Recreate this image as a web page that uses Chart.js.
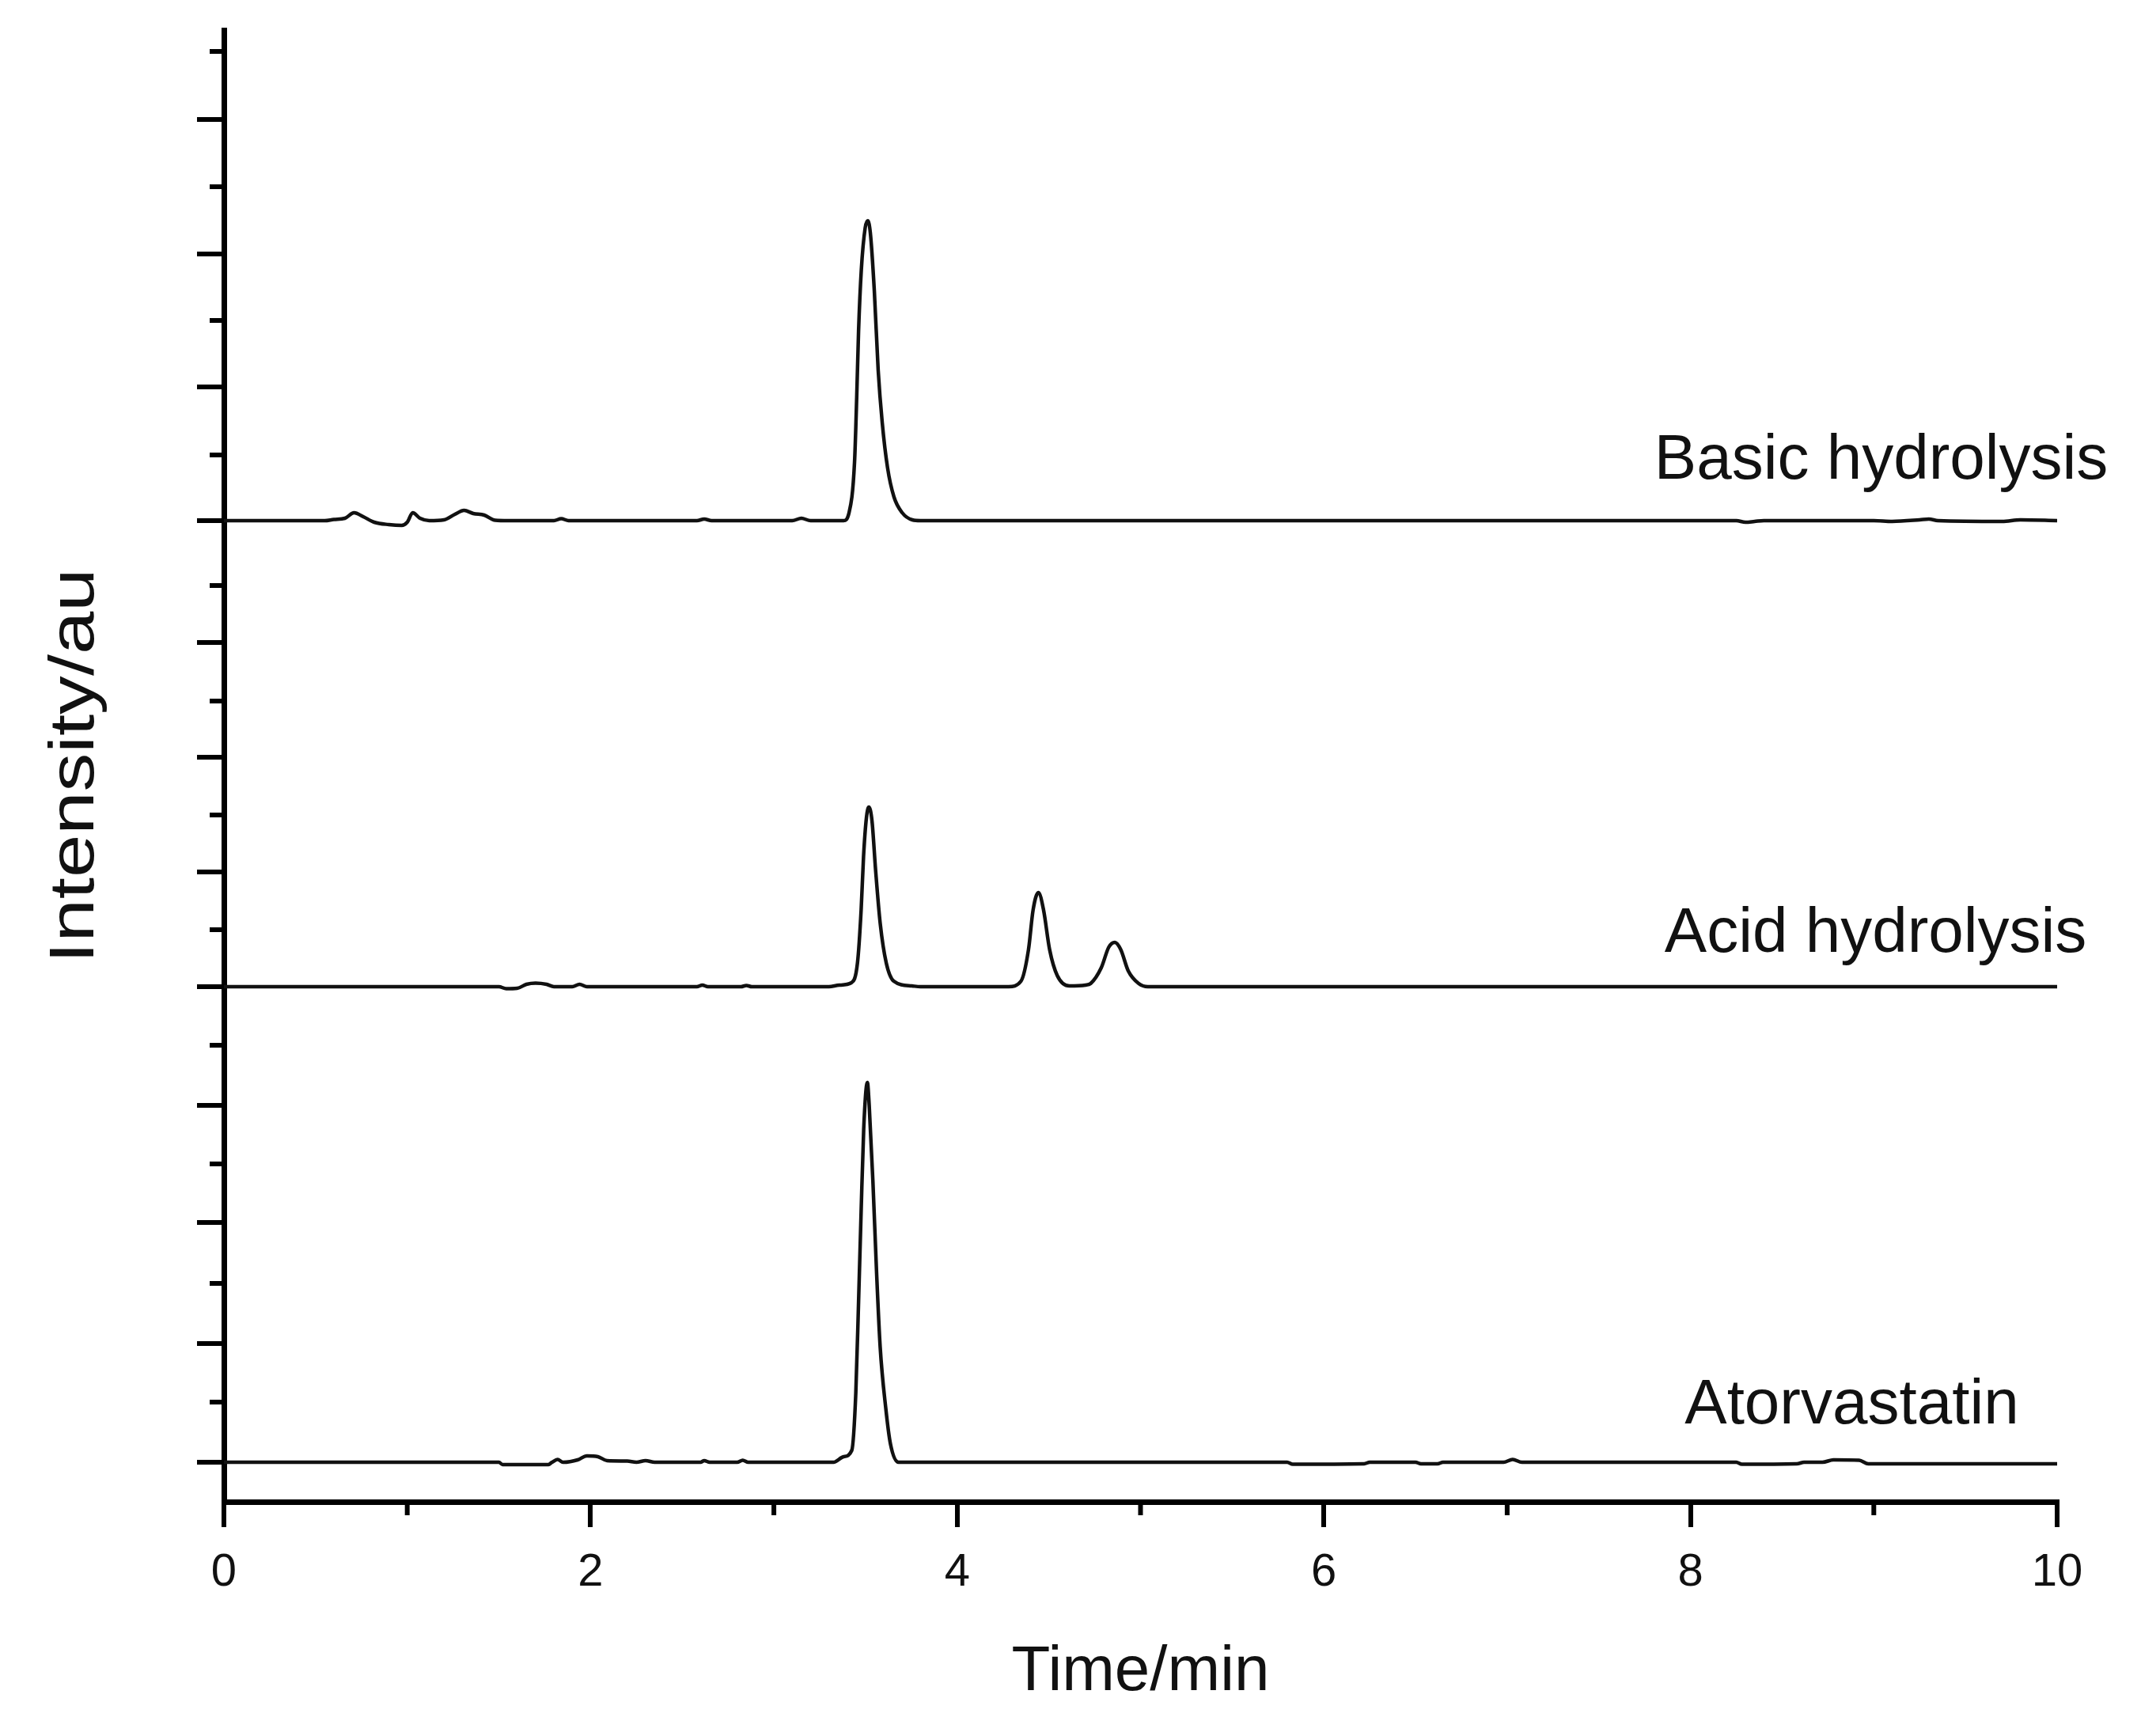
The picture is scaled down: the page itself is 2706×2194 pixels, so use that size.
<!DOCTYPE html>
<html>
<head>
<meta charset="utf-8">
<title>Chromatograms</title>
<script src="https://cdn.jsdelivr.net/npm/chart.js@4.4.1/dist/chart.umd.min.js"></script>
<style>
  html, body { margin: 0; padding: 0; background: #fff; }
  #wrap { width: 2706px; height: 2194px; position: relative; }
</style>
</head>
<body>
<div id="wrap"><canvas id="chrom"></canvas></div>
<script>
// [retention time (min), signal above the trace's own baseline (au)]
const basicTrace = [
  [0, 0], [0.55, 0], [0.60, 0.15], [0.66, 0.3], [0.71, 1.0], [0.76, 0.5], [0.82, -0.2], [0.90, -0.5],
  [0.97, -0.6], [1.00, -0.2], [1.03, 1.0], [1.07, 0.3], [1.12, 0], [1.20, 0.1], [1.26, 0.8], [1.31, 1.3],
  [1.36, 0.9], [1.42, 0.7], [1.48, 0.05], [1.55, 0], [1.80, 0], [1.84, 0.25], [1.88, 0], [2.58, 0],
  [2.62, 0.2], [2.66, 0], [3.10, 0], [3.15, 0.3], [3.20, 0], [3.38, 0], [3.41, 1.0], [3.44, 7.4],
  [3.452, 15.7], [3.462, 24.0], [3.477, 31.7], [3.498, 37.0], [3.512, 37.9], [3.526, 36.4], [3.548, 29.0],
  [3.569, 19.0], [3.591, 12.4], [3.62, 6.7], [3.655, 3.0], [3.70, 1.0], [3.755, 0.1], [3.80, 0],
  [8.25, 0], [8.30, -0.2], [8.35, -0.1], [8.40, 0], [9.0, 0], [9.1, -0.1], [9.25, 0.1], [9.3, 0.2],
  [9.35, 0], [9.7, -0.1], [9.8, 0.1], [10, 0]
];
const acidTrace = [
  [0, 0], [1.50, 0], [1.54, -0.25], [1.60, -0.2], [1.65, 0.3], [1.70, 0.45], [1.76, 0.3], [1.80, 0],
  [1.90, 0], [1.94, 0.3], [1.98, 0], [2.58, 0], [2.61, 0.2], [2.64, 0], [2.82, 0], [2.85, 0.15], [2.88, 0],
  [3.30, 0], [3.357, 0.2], [3.423, 0.5], [3.456, 3.0], [3.476, 9.7], [3.489, 16.4], [3.505, 21.4],
  [3.518, 22.7], [3.535, 21.0], [3.555, 14.7], [3.58, 8.0], [3.613, 3.0], [3.654, 0.7], [3.753, 0.1],
  [3.80, 0], [4.28, 0], [4.348, 0.7], [4.389, 4.7], [4.414, 9.7], [4.443, 11.9], [4.471, 9.7],
  [4.504, 4.7], [4.546, 1.4], [4.612, 0.1], [4.70, 0.2], [4.728, 0.4], [4.786, 2.4], [4.827, 5.0],
  [4.86, 5.6], [4.892, 4.7], [4.933, 2.0], [4.99, 0.4], [5.04, 0], [10, 0]
];
const atorvastatinTrace = [
  [0, 0], [1.50, 0], [1.52, -0.3], [1.77, -0.3], [1.79, 0], [1.82, 0.35], [1.85, 0], [1.93, 0.3],
  [1.98, 0.8], [2.04, 0.7], [2.09, 0.2], [2.20, 0.15], [2.25, 0], [2.30, 0.2], [2.35, 0], [2.60, 0],
  [2.62, 0.2], [2.65, 0], [2.80, 0], [2.83, 0.25], [2.86, 0], [3.325, 0], [3.38, 0.7], [3.425, 1.5],
  [3.447, 8.8], [3.462, 20.3], [3.476, 31.7], [3.49, 42.1], [3.51, 48.0], [3.52, 45.1], [3.54, 35.6],
  [3.56, 24.1], [3.58, 14.5], [3.61, 6.9], [3.636, 2.3], [3.68, 0], [5.80, 0], [5.83, -0.25],
  [6.22, -0.2], [6.25, 0], [6.50, 0], [6.53, -0.2], [6.62, -0.2], [6.65, 0], [6.98, 0], [7.03, 0.35],
  [7.08, 0], [8.25, 0], [8.28, -0.25], [8.58, -0.2], [8.62, 0], [8.72, 0], [8.78, 0.3], [8.92, 0.25],
  [8.97, -0.2], [10, -0.2]
];

const traceNames = ['Basic hydrolysis', 'Acid hydrolysis', 'Atorvastatin'];
const traceOffsets = [124.0, 65.1, 5.0];   // stacked baselines
const labelTimes = [9.04, 9.01, 8.88];
const labelLift = [7.5, 6.6, 7.1];

const xMajorTicks = [0, 2, 4, 6, 8, 10];
const xMinorTicks = [1, 3, 5, 7, 9];
const yMajorTicks = [5.0, 20.0, 35.3, 50.1, 65.1, 79.6, 94.1, 108.6, 124.0, 140.9, 157.7, 174.7];
const yMinorTicks = [12.6, 27.6, 42.7, 57.7, 72.3, 86.8, 101.2, 115.8, 132.3, 149.3, 166.2, 183.3];

const FONT = '"Liberation Sans", Arial, Helvetica, sans-serif';

// short minor ticks, trace names and the (stretched) y title
const overlay = {
  id: 'overlay',
  afterDraw(chart) {
    const { ctx } = chart;
    const x = chart.scales.x, y = chart.scales.y;
    ctx.save();
    ctx.strokeStyle = '#000';
    ctx.lineWidth = 6;
    ctx.beginPath();
    xMinorTicks.forEach(v => {
      const px = x.getPixelForValue(v);
      ctx.moveTo(px, x.top);
      ctx.lineTo(px, x.top + 17);
    });
    yMinorTicks.forEach(v => {
      const py = y.getPixelForValue(v);
      ctx.moveTo(y.right - 18, py);
      ctx.lineTo(y.right, py);
    });
    ctx.stroke();

    ctx.fillStyle = '#111';
    ctx.font = '80px ' + FONT;
    ctx.textAlign = 'center';
    ctx.textBaseline = 'middle';
    traceNames.forEach((name, i) => {
      ctx.fillText(name, x.getPixelForValue(labelTimes[i]),
        y.getPixelForValue(traceOffsets[i] + labelLift[i]));
    });

    // y title, drawn by hand because it is stretched along its length
    ctx.translate(96, (y.top + y.bottom) / 2);
    ctx.rotate(-Math.PI / 2);
    ctx.scale(1.22, 1);
    ctx.fillText('Intensity/au', 0, 0);
    ctx.restore();
  }
};

const traces = [basicTrace, acidTrace, atorvastatinTrace];

new Chart(document.getElementById('chrom'), {
  type: 'line',
  data: {
    datasets: traces.map((trace, i) => ({
      label: traceNames[i],
      data: trace.map(([t, v]) => ({ x: t, y: v + traceOffsets[i] })),
      borderColor: '#111',
      borderWidth: 4.5,
      pointRadius: 0,
      fill: false,
      cubicInterpolationMode: 'monotone'
    }))
  },
  options: {
    responsive: true,
    maintainAspectRatio: false,
    animation: false,
    layout: { padding: { top: 38, right: 106, bottom: 0, left: 0 } },
    plugins: {
      legend: { display: false },
      tooltip: { enabled: false }
    },
    scales: {
      x: {
        type: 'linear',
        min: 0,
        max: 10,
        afterBuildTicks: s => { s.ticks = xMajorTicks.map(v => ({ value: v })); },
        afterFit: s => { s.height = 296; },
        ticks: { color: '#111', font: { family: FONT, size: 58 }, padding: 23, maxRotation: 0, autoSkip: false },
        grid: { drawOnChartArea: false, drawTicks: true, tickLength: 32, lineWidth: 6, color: '#000' },
        border: { display: true, width: 7, color: '#000' },
        title: {
          display: true, text: 'Time/min', color: '#111',
          font: { family: FONT, size: 80 }, padding: { top: 0, bottom: 32 }
        }
      },
      y: {
        type: 'linear',
        min: 0,
        max: 186,
        afterBuildTicks: s => { s.ticks = yMajorTicks.map(v => ({ value: v })); },
        afterFit: s => { s.width = 283; },
        ticks: { display: false },
        grid: { drawOnChartArea: false, drawTicks: true, tickLength: 34, lineWidth: 6, color: '#000' },
        border: { display: true, width: 7, color: '#000' },
        title: { display: false }
      }
    }
  },
  plugins: [overlay]
});
</script>
</body>
</html>
